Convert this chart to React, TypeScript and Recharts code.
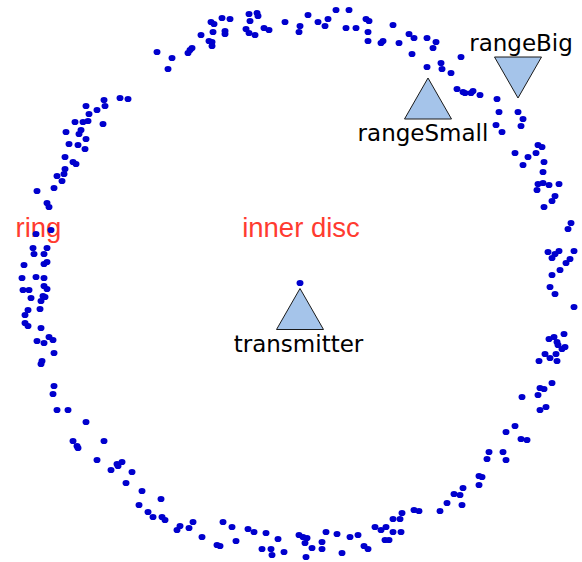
import React from 'react';
import { ScatterChart, Scatter, XAxis, YAxis } from 'recharts';

// Received signal sample positions (metres, transmitter-centred frame), grouped by arc of the ring
const arcNorthWest: [number, number][] = [
  [-143, 238], [-128, 232], [-132, 221], [-112, 237], [-110, 240], [-108, 242], [-99, 255],
  [-89, 268], [-86, 266], [-87, 258], [-78, 272], [-70, 271], [-75, 259], [-75, 256],
  [-91, 249], [-88, 248], [-88, 244], [-51, 276], [-43, 277], [-42, 274], [-50, 269],
  [-54, 261], [-51, 257], [-45, 255], [-36, 262], [-31, 260], [-15, 268],
];
const arcWestNorth: [number, number][] = [
  [-180, 192], [-172, 191], [-196, 190], [-195, 184], [-214, 184], [-203, 180], [-211, 176],
  [-225, 168], [-217, 168], [-212, 169], [-197, 166], [-219, 160], [-221, 156], [-234, 158],
  [-214, 151], [-231, 146], [-222, 145], [-215, 141], [-235, 133], [-227, 128], [-224, 126],
  [-235, 121], [-236, 116], [-243, 114], [-238, 109], [-246, 102], [-263, 99],
];
const arcNorthEast: [number, number][] = [
  [8, 275], [0, 264], [-1, 258], [18, 268], [25, 264], [28, 271], [36, 280], [49, 280],
  [46, 262], [56, 262], [66, 271], [69, 269], [68, 258], [68, 249], [81, 247], [83, 249],
  [93, 265], [99, 247], [109, 256], [114, 252], [112, 236], [127, 252], [136, 248], [133, 242],
  [127, 223], [141, 227], [142, 221], [151, 217], [161, 233], [157, 201], [163, 198], [165, 197],
  [171, 197], [173, 199], [180, 195], [197, 191], [199, 178], [196, 165], [202, 158], [218, 178],
  [223, 171], [221, 164], [238, 145], [242, 143], [236, 137], [215, 137], [228, 133], [223, 125],
  [244, 128], [243, 118], [238, 106], [243, 107], [249, 105], [259, 106],
];
const arcEast: [number, number][] = [
  [237, 100], [255, 94], [252, 89], [244, 83], [271, 67], [268, 61], [248, 38], [259, 39],
  [252, 32], [255, 36], [274, 39], [270, 31], [266, 27], [260, 20], [252, 15], [250, 3],
  [255, -4], [274, -17], [264, -44], [249, -49], [254, -47], [257, -52], [258, -55], [265, -57],
  [262, -59], [245, -64], [250, -68], [256, -64], [257, -71], [239, -71], [252, -93], [240, -98],
  [244, -99], [238, -105], [222, -107], [246, -117], [240, -120],
];
const arcSouthEast: [number, number][] = [
  [227, -150], [221, -149], [215, -136], [206, -142], [206, -170], [203, -162], [189, -162],
  [187, -169], [182, -187], [179, -186], [179, -195], [163, -198], [162, -215], [160, -205],
  [154, -204], [147, -213], [140, -221], [119, -221], [114, -220], [102, -223], [100, -229],
  [93, -229], [101, -242], [93, -242], [89, -250], [85, -250], [86, -237], [81, -240], [75, -237],
  [68, -259], [64, -256], [58, -245], [50, -247], [42, -263], [37, -244], [26, -242], [22, -259],
  [22, -252], [12, -258], [6, -267], [5, -253], [7, -248], [3, -247], [-1, -245],
];
const arcWest: [number, number][] = [
  [-253, 87], [-251, 83], [-249, 60], [-264, 56], [-267, 42], [-253, 42], [-266, 36], [-256, 36],
  [-276, 25], [-256, 26], [-253, 28], [-278, 12], [-264, 13], [-256, 12], [-277, 0], [-271, 0],
  [-256, 4], [-253, 1], [-269, -8], [-257, -6], [-255, -7], [-259, -11], [-260, -19], [-272, -20],
  [-275, -25], [-275, -33], [-272, -36], [-259, -38], [-251, -47], [-247, -50], [-263, -51],
  [-256, -53], [-246, -63], [-258, -71], [-259, -74],
];
const arcSouthWest: [number, number][] = [
  [-246, -96], [-247, -104], [-243, -120], [-232, -120], [-214, -132], [-227, -151], [-223, -156],
  [-222, -158], [-196, -151], [-203, -170], [-189, -180], [-183, -174], [-182, -176], [-178, -172],
  [-168, -182], [-174, -193], [-158, -201], [-161, -215], [-139, -209], [-152, -222], [-147, -227],
  [-138, -227], [-135, -230], [-123, -240], [-120, -236], [-111, -238], [-107, -232], [-98, -247],
  [-83, -255], [-80, -256], [-77, -232], [-68, -237], [-64, -251], [-52, -239], [-46, -242],
  [-34, -243], [-22, -249], [-38, -259], [-29, -259], [-28, -265], [-16, -262],
];
const innerSamples: [number, number][] = [[0, 7]];

// Stations (marker positions) and their label anchors
const stationNames = ['transmitter', 'rangeSmall', 'rangeBig'];
const stationX = [0, 128, 218];
const stationY = [-19, 191.5, 212.5];
const stationPointsDown = [false, false, true];
const stationLabelX = [-1.5, 123, 221];
const stationLabelY = [-62, 149, 239];

// Region annotations
const regionNames = ['ring', 'inner disc'];
const regionX = [-261.5, 1];
const regionY = [53, 53];

const samples = [
  ...arcNorthWest, ...arcWestNorth, ...arcNorthEast, ...arcEast,
  ...arcSouthEast, ...arcWest, ...arcSouthWest, ...innerSamples,
].map(([x, y]) => ({ x, y }));

const stations = stationNames.map((name, i) => ({
  name, x: stationX[i], y: stationY[i], down: stationPointsDown[i],
}));
const stationLabels = stationNames.map((name, i) => ({ name, x: stationLabelX[i], y: stationLabelY[i] }));

const regions = regionNames.map((name, i) => ({ name, x: regionX[i], y: regionY[i] }));

const Dot = (p: any) => <ellipse cx={p.cx} cy={p.cy} rx={3.5} ry={3.1} fill="#0000cd" />;

const Station = (p: any) => {
  const { cx, cy, payload } = p;
  const hw = 23.5;
  const hh = 20.5;
  const pts = payload.down
    ? `${cx - hw},${cy - hh} ${cx + hw},${cy - hh} ${cx},${cy + hh}`
    : `${cx - hw},${cy + hh} ${cx + hw},${cy + hh} ${cx},${cy - hh}`;
  return <polygon points={pts} fill="#a5c4ea" stroke="#1a1a1a" strokeWidth={1} />;
};

const StationLabel = (p: any) => (
  <text x={p.cx} y={p.cy} textAnchor="middle" fontFamily="DejaVu Sans" fontSize={23} fill="#000">
    {p.payload.name}
  </text>
);

const Region = (p: any) => (
  <text x={p.cx} y={p.cy} textAnchor="middle" fontFamily="Liberation Sans" fontSize={27.5} fill="#ff3b30">
    {p.payload.name}
  </text>
);

export default function App() {
  return (
    <div style={{ position: 'absolute', left: 0, top: 0, width: 582, height: 562, background: '#fff' }}>
      <ScatterChart width={582} height={562} margin={{ top: 0, right: 0, bottom: 0, left: 0 }}>
        <XAxis type="number" dataKey="x" domain={[-300, 282]} hide />
        <YAxis type="number" dataKey="y" domain={[-272, 290]} hide />
        <Scatter data={regions} shape={Region} isAnimationActive={false} />
        <Scatter data={stations} shape={Station} isAnimationActive={false} />
        <Scatter data={stationLabels} shape={StationLabel} isAnimationActive={false} />
        <Scatter data={samples} shape={Dot} isAnimationActive={false} />
      </ScatterChart>
    </div>
  );
}
